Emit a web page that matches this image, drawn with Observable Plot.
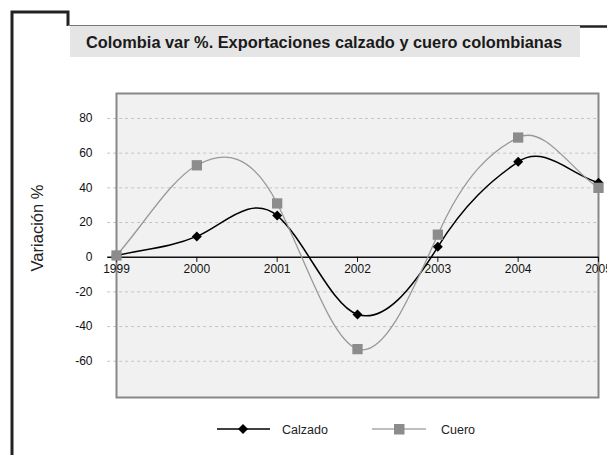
<!DOCTYPE html>
<html>
<head>
<meta charset="utf-8">
<script src="https://cdn.jsdelivr.net/npm/d3@7"></script>
<script src="https://cdn.jsdelivr.net/npm/@observablehq/plot@0.6"></script>
<style>
  html, body { margin: 0; padding: 0; background: #fff; }
  #chart { position: relative; width: 607px; height: 455px; }
  svg { font-family: "Liberation Sans", Arial, sans-serif; }
</style>
</head>
<body>
<div id="chart"></div>
<script>
const years = [1999, 2000, 2001, 2002, 2003, 2004, 2005];
const calzado = [1, 12, 24, -33, 6, 55, 43];
const cuero = [1, 53, 31, -53, 13, 69, 40];
const yTicks = [-60, -40, -20, 0, 20, 40, 60, 80];
const gridTicks = [-60, -40, -20, 20, 40, 60, 80];
const seriesNames = ["Calzado", "Cuero"];
const titleText = "Colombia var %. Exportaciones calzado y cuero colombianas";
const yLabel = "Variación %";

const calzadoData = years.map((year, i) => ({year, value: calzado[i]}));
const cueroData = years.map((year, i) => ({year, value: cuero[i]}));

// Spreadsheet-style smoothed line: cubic Hermite with amplified central tangents
function smoothCurve(context) {
  const k = 1.7;
  let pts = [];
  return {
    areaStart() {}, areaEnd() {},
    lineStart() { pts = []; },
    point(x, y) { pts.push([+x, +y]); },
    lineEnd() {
      const n = pts.length;
      if (!n) return;
      const m = pts.map((p, i) => {
        if (n < 2) return 0;
        if (i === 0) return (pts[1][1] - p[1]) / (pts[1][0] - p[0]);
        if (i === n - 1) return (p[1] - pts[i - 1][1]) / (p[0] - pts[i - 1][0]);
        return k * (pts[i + 1][1] - pts[i - 1][1]) / (pts[i + 1][0] - pts[i - 1][0]);
      });
      context.moveTo(pts[0][0], pts[0][1]);
      for (let i = 0; i < n - 1; i++) {
        const [x0, y0] = pts[i], [x1, y1] = pts[i + 1];
        const dx = (x1 - x0) / 3;
        context.bezierCurveTo(x0 + dx, y0 + m[i] * dx, x1 - dx, y1 - m[i + 1] * dx, x1, y1);
      }
    }
  };
}

const x0 = years[0] - 0.11;

const svg = Plot.plot({
  width: 607,
  height: 455,
  marginLeft: 116,
  marginRight: 9,
  marginTop: 93,
  marginBottom: 58,
  style: {fontFamily: "Liberation Sans, Arial, sans-serif", fontSize: "12px", background: "transparent"},
  x: {domain: [1999, 2005], axis: null},
  y: {domain: [-80.9, 94.4], axis: null},
  marks: [
    Plot.frame({fill: "#f1f1f1", stroke: null}),
    Plot.ruleY(gridTicks, {x1: x0, x2: 2005, stroke: "#c4c4c4", strokeWidth: 1, strokeDasharray: "3,3"}),
    Plot.frame({stroke: "#888888", strokeWidth: 2, fill: "none"}),
    Plot.ruleY([0], {x1: x0, x2: 2005, stroke: "#111", strokeWidth: 1.5}),
    Plot.ruleX(years, {x: d => d, y1: 0, y2: -3, stroke: "#111", strokeWidth: 1}),
    Plot.text(years, {x: d => d, y: 0, dy: 12, text: d => String(d), fill: "#111", fontSize: 12}),
    Plot.text(yTicks, {x: 1999, y: d => d, dx: -24, textAnchor: "end", text: d => String(d), fill: "#111", fontSize: 12}),
    Plot.line(calzadoData, {x: "year", y: "value", curve: smoothCurve, stroke: "#000", strokeWidth: 1.5}),
    Plot.dot(calzadoData, {x: "year", y: "value", symbol: "diamond2", r: 4.5, fill: "#000", stroke: "none"}),
    Plot.line(cueroData, {x: "year", y: "value", curve: smoothCurve, stroke: "#999", strokeWidth: 1.3}),
    Plot.dot(cueroData, {x: "year", y: "value", symbol: "square", r: 5.8, fill: "#8c8c8c", stroke: "none"})
  ]
});

document.getElementById("chart").appendChild(svg);

const s = d3.select(svg);
const deco = s.insert("g", ":first-child");
// outer frame lines
deco.append("path").attr("d", "M12,455 V12 H68 V26").attr("fill", "none").attr("stroke", "#222").attr("stroke-width", 3);
deco.append("line").attr("x1", 68).attr("x2", 580).attr("y1", 25.5).attr("y2", 25.5).attr("stroke", "#777").attr("stroke-width", 1);
deco.append("line").attr("x1", 580).attr("x2", 607).attr("y1", 26.5).attr("y2", 26.5).attr("stroke", "#222").attr("stroke-width", 2.5);
// title box
deco.append("rect").attr("x", 70).attr("y", 26).attr("width", 510).attr("height", 31).attr("fill", "#e5e5e5");
s.append("text").attr("x", 86).attr("y", 47.5).attr("text-anchor", "start")
  .attr("font-size", 16).attr("font-weight", "bold").attr("fill", "#1a1a1a")
  .attr("textLength", 476).attr("lengthAdjust", "spacingAndGlyphs")
  .text(titleText);
// y label
s.append("text").attr("transform", "translate(37,228) rotate(-90)")
  .attr("text-anchor", "middle").attr("dominant-baseline", "central")
  .attr("font-size", 16.5).attr("fill", "#222").text(yLabel);
// legend
const lg = s.append("g").attr("text-anchor", "start");
lg.append("line").attr("x1", 217).attr("x2", 270).attr("y1", 429).attr("y2", 429).attr("stroke", "#000").attr("stroke-width", 1.5);
lg.append("path").attr("d", "M243,424 L248,429 L243,434 L238,429 Z").attr("fill", "#000");
lg.append("text").attr("x", 282).attr("y", 433.5).attr("font-size", 12.5).attr("fill", "#222").text(seriesNames[0]);
lg.append("line").attr("x1", 372).attr("x2", 426).attr("y1", 429).attr("y2", 429).attr("stroke", "#aaa").attr("stroke-width", 1.3);
lg.append("rect").attr("x", 394).attr("y", 424).attr("width", 10.5).attr("height", 10.5).attr("fill", "#8c8c8c");
lg.append("text").attr("x", 441).attr("y", 433.5).attr("font-size", 12.5).attr("fill", "#222").text(seriesNames[1]);
</script>
</body>
</html>
